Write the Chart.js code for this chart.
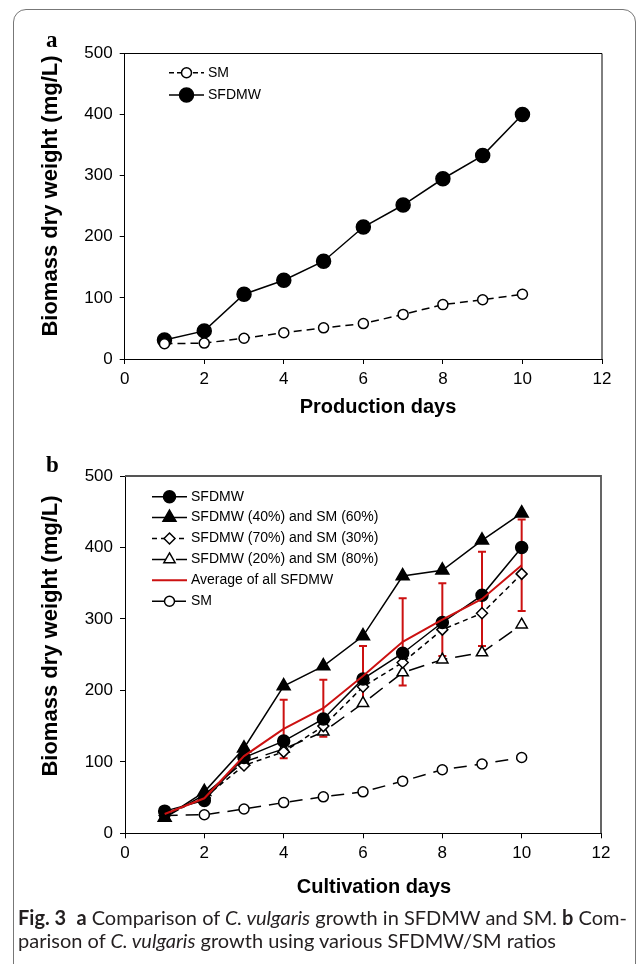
<!DOCTYPE html>
<html>
<head>
<meta charset="utf-8">
<script src="https://cdn.jsdelivr.net/npm/chart.js@4.4.1/dist/chart.umd.min.js"></script>
<style>
  html, body { margin: 0; padding: 0; background: #fff; overflow: hidden; }
  body { width: 637px; height: 964px; position: relative; }
  #frame { position: absolute; left: 13px; top: 9px; width: 623px; height: 1000px;
           border: 1.5px solid #777; border-radius: 13px; box-sizing: border-box; }
  .wrap { position: absolute; left: 0; width: 637px; }
  .panel { position: absolute; font: bold 23px "Liberation Serif", serif; color: #000; }
  #caption { position: absolute; left: 18px; top: 906px; font: 20px Lato, sans-serif;
             line-height: 23px; white-space: nowrap; color: #231f20; }
</style>
</head>
<body>
<div id="frame"></div>
<div class="wrap" style="top:0;height:430px"><canvas id="chartA"></canvas></div>
<div class="wrap" style="top:430px;height:534px"><canvas id="chartB"></canvas></div>
<div class="panel" style="left:46px;top:27px">a</div>
<div class="panel" style="left:46px;top:452px">b</div>
<div id="caption"><b>Fig. 3</b>&nbsp; <b>a</b> Comparison of <i>C. vulgaris</i> growth in SFDMW and SM. <b>b</b> Com-<br>parison of <i>C. vulgaris</i> growth using various SFDMW/SM ratios</div>
<script>
// ── Data ─────────────────────────────────────────────────────────────────

const days    = [1, 2, 3, 4, 5, 6, 7, 8, 9, 10];
const sfdmw   = [31, 46, 106, 129, 160, 216, 252, 295, 333, 400];
const sm      = [25, 26, 34, 43, 51, 58, 73, 89, 97, 106];
const mix40   = [22, 58, 119, 206, 234, 276, 360, 368, 410, 448];
const mix70   = [25, 50, 95, 114, 150, 205, 239, 285, 308, 363];
const mix20   = [22, 54, 100, 118, 142, 182, 225, 243, 253, 292];
const avgAll  = [27, 49, 108, 146, 175, 220, 268, 299, 328, 375];
const avgErr  = [3, 5, 13, 41, 40, 42, 61, 51, 66, 64];

const xRange = [0, 12, 2];     // min, max, step
const yRange = [0, 500, 100];

const FONT = '"Liberation Sans", Arial, sans-serif';
Chart.defaults.font.family = FONT;
Chart.defaults.color = '#000';

const pts = v => days.map((d, i) => ({ x: d, y: v[i] }));

// ── Plugins ───────────────────────────────────────────────────────────────

const frameBox = {
  id: 'frameBox',
  beforeDatasetsDraw(chart, args, o) {
    const { ctx, chartArea: a } = chart;
    ctx.save();
    ctx.strokeStyle = o.color; ctx.lineWidth = o.width;
    ctx.beginPath();
    ctx.moveTo(a.left, a.top); ctx.lineTo(a.right, a.top); ctx.lineTo(a.right, a.bottom);
    ctx.stroke();
    ctx.restore();
  }
};

const errorBars = {
  id: 'errorBars',
  beforeDatasetsDraw(chart) {
    const { ctx, scales: { x, y } } = chart;
    chart.data.datasets.forEach(ds => {
      if (!ds.errors) return;
      ctx.save();
      ctx.strokeStyle = ds.borderColor; ctx.lineWidth = 2;
      ds.data.forEach((p, i) => {
        const e = ds.errors[i];
        if (!e) return;
        const px = x.getPixelForValue(p.x);
        const y0 = y.getPixelForValue(p.y - e), y1 = y.getPixelForValue(p.y + e);
        ctx.beginPath();
        ctx.moveTo(px, y0); ctx.lineTo(px, y1);
        ctx.moveTo(px - 4, y0); ctx.lineTo(px + 4, y0);
        ctx.moveTo(px - 4, y1); ctx.lineTo(px + 4, y1);
        ctx.stroke();
      });
      ctx.restore();
    });
  }
};

const sampleLegend = {
  id: 'sampleLegend',
  afterDraw(chart, args, o) {
    const { ctx } = chart;
    ctx.save();
    ctx.font = o.font; ctx.textBaseline = 'middle'; ctx.textAlign = 'left';
    chart.data.datasets.forEach((ds, i) => {
      const y = o.top + i * o.rowGap;
      ctx.strokeStyle = ds.borderColor; ctx.lineWidth = ds.borderWidth;
      ctx.setLineDash(ds.legendDash || ds.borderDash || []);
      ctx.beginPath(); ctx.moveTo(o.left, y); ctx.lineTo(o.left + o.lineLen, y); ctx.stroke();
      ctx.setLineDash([]);
      if (ds.pointRadius) {
        ctx.fillStyle = ds.pointBackgroundColor;
        ctx.strokeStyle = ds.pointBorderColor;
        ctx.lineWidth = ds.pointBorderWidth;
        Chart.helpers.drawPoint(ctx, { pointStyle: ds.pointStyle, radius: ds.pointRadius,
          rotation: 0, borderWidth: ds.pointBorderWidth }, o.left + o.lineLen / 2, y);
      }
      ctx.fillStyle = '#000';
      ctx.fillText(ds.label, o.left + o.lineLen + o.gap, y);
    });
    ctx.restore();
  }
};

const axisTitles = {
  id: 'axisTitles',
  afterDraw(chart, args, o) {
    const { ctx } = chart;
    ctx.save();
    ctx.fillStyle = '#000'; ctx.textAlign = 'center'; ctx.textBaseline = 'alphabetic';
    ctx.font = o.xFont; ctx.fillText(o.xText, o.xAt[0], o.xAt[1]);
    ctx.translate(o.yAt[0], o.yAt[1]); ctx.rotate(-Math.PI / 2);
    ctx.font = o.yFont; ctx.fillText(o.yText, 0, 0);
    ctx.restore();
  }
};

// ── Shared axis setup ─────────────────────────────────────────────────────

function axes(yWidth, xHeight) {
  const tickFont = { family: FONT, size: 17 };
  const grid = { display: true, drawOnChartArea: false, drawTicks: true, tickLength: 5, color: '#000', lineWidth: 1 };
  const border = { display: true, color: '#000', width: 1 };
  return {
    x: { type: 'linear', min: xRange[0], max: xRange[1],
         ticks: { stepSize: xRange[2], font: tickFont, color: '#000', padding: 5, maxRotation: 0 },
         grid, border, afterFit: s => { s.height = xHeight; } },
    y: { type: 'linear', min: yRange[0], max: yRange[1],
         ticks: { stepSize: yRange[2], font: tickFont, color: '#000', padding: 7 },
         grid, border, afterFit: s => { s.width = yWidth; } }
  };
}

function line(label, values, o) {
  return Object.assign({
    label, data: pts(values), showLine: true, tension: 0,
    borderColor: '#000', borderWidth: 1.5, borderDash: [],
    pointStyle: 'circle', pointRadius: 6, pointBorderWidth: 1.5,
    pointBackgroundColor: '#000', pointBorderColor: '#000', pointHoverRadius: 6
  }, o);
}

const YTITLE = 'Biomass dry weight (mg/L)';

// ── Panel a ───────────────────────────────────────────────────────────────

new Chart(document.getElementById('chartA'), {
  type: 'scatter',
  plugins: [frameBox, sampleLegend, axisTitles],
  data: { datasets: [
    line('SM', sm, { borderDash: [8, 5], legendDash: [5, 3], pointRadius: 5, pointBackgroundColor: '#fff' }),
    line('SFDMW', sfdmw, { pointRadius: 7 })
  ] },
  options: {
    responsive: true, maintainAspectRatio: false, animation: false,
    layout: { padding: { top: 53.5, right: 35, left: 0, bottom: 0 } },
    plugins: {
      legend: { display: false }, tooltip: { enabled: false },
      frameBox: { color: '#000', width: 1 },
      sampleLegend: { left: 169, top: 72.7, rowGap: 22.3, lineLen: 35, gap: 4, font: '14px ' + FONT },
      axisTitles: { xText: 'Production days', xFont: 'bold 20px ' + FONT, xAt: [378, 413],
                    yText: YTITLE, yFont: 'bold 22px ' + FONT, yAt: [57.3, 196] }
    },
    scales: axes(124.7, 71)
  }
});

// ── Panel b ───────────────────────────────────────────────────────────────

new Chart(document.getElementById('chartB'), {
  type: 'scatter',
  plugins: [frameBox, errorBars, sampleLegend, axisTitles],
  data: { datasets: [
    line('SFDMW', sfdmw, { pointRadius: 6 }),
    line('SFDMW (40%) and SM (60%)', mix40, { pointStyle: 'triangle', pointRadius: 7.5 }),
    line('SFDMW (70%) and SM (30%)', mix70, { borderDash: [5, 4], pointStyle: 'rectRot', pointRadius: 5.5,
                                              pointBackgroundColor: '#fff' }),
    line('SFDMW (20%) and SM (80%)', mix20, { borderDash: [16, 8], pointStyle: 'triangle', pointRadius: 6.5,
                                              pointBackgroundColor: '#fff' }),
    line('Average of all SFDMW', avgAll, { borderColor: '#cc1111', borderWidth: 2, pointRadius: 0,
                                           errors: avgErr, order: -1 }),
    line('SM', sm, { borderDash: [13, 8], pointRadius: 5, pointBackgroundColor: '#fff' })
  ] },
  options: {
    responsive: true, maintainAspectRatio: false, animation: false,
    layout: { padding: { top: 46, right: 36, left: 0, bottom: 0 } },
    plugins: {
      legend: { display: false }, tooltip: { enabled: false },
      frameBox: { color: '#555', width: 1.8 },
      sampleLegend: { left: 152, top: 66.7, rowGap: 20.9, lineLen: 35, gap: 4, font: '14px ' + FONT },
      axisTitles: { xText: 'Cultivation days', xFont: 'bold 20px ' + FONT, xAt: [374, 463],
                    yText: YTITLE, yFont: 'bold 22px ' + FONT, yAt: [57.3, 206] }
    },
    scales: axes(125, 130.7)
  }
});
</script>
</body>
</html>
